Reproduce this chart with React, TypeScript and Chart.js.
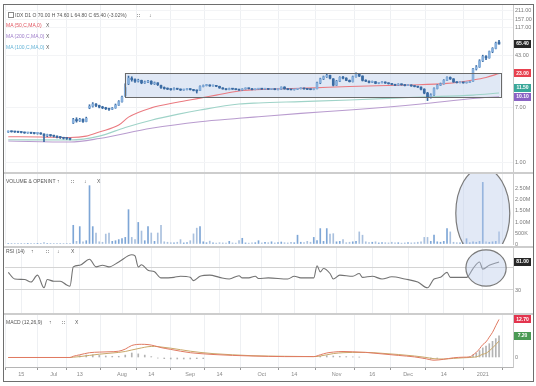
import React, { useEffect, useRef } from 'react';
import { Chart, registerables } from 'chart.js';

Chart.register(...registerables);

const FONT = "'Liberation Sans', Arial, sans-serif";

// ---------- x axis ----------
const X_MIN = -1;
const X_MAX = 155.3;
const tickIdx = [4, 14, 22, 35, 44, 56, 65, 78, 88, 101, 112, 123, 134, 146];
const tickLabels = ['15', 'Jul', '13', 'Aug', '14', 'Sep', '14', 'Oct', '14', 'Nov', '16', 'Dec', '14', '2021'];

// ---------- price (daily candles) ----------
const opens = [
  2.90, 2.95, 2.92, 2.90, 2.88, 2.85, 2.80, 2.82, 2.78, 2.75,
  2.80, 2.70, 2.55, 2.60, 2.55, 2.50, 2.40, 2.38, 2.32, 2.30,
  4.00, 4.50, 4.30, 4.55, 4.20, 6.80, 7.20, 7.80, 7.40, 7.00,
  6.80, 6.60, 6.50, 6.80, 7.50, 8.50, 10.5, 16.0, 19.5, 18.5,
  17.5, 18.0, 16.5, 17.0, 17.5, 16.0, 16.5, 15.0, 14.0, 13.5,
  13.2, 13.0, 13.5, 13.2, 12.8, 13.0, 13.3, 13.0, 12.6, 12.6,
  14.5, 15.0, 15.3, 14.8, 15.0, 14.6, 13.8, 13.3, 13.0, 13.5,
  13.2, 13.0, 12.8, 13.3, 13.6, 13.4, 13.0, 13.2, 13.5, 13.2,
  13.4, 13.1, 13.3, 13.0, 13.2, 14.2, 13.3, 13.0, 12.9, 13.1,
  13.4, 13.6, 13.3, 13.1, 13.0, 13.4, 16.5, 19.0, 20.5, 21.5,
  19.0, 15.2, 17.5, 20.0, 19.5, 18.0, 17.2, 20.5, 22.5, 21.0,
  18.0, 17.5, 16.8, 17.2, 16.2, 16.5, 17.0, 16.4, 16.0, 15.6,
  15.2, 15.8, 15.4, 15.0, 15.3, 14.8, 14.5, 14.2, 13.2, 11.5,
  10.0, 10.8, 13.5, 15.2, 16.0, 18.0, 20.0, 19.0, 17.0, 16.6,
  16.8, 16.5, 16.7, 17.5, 27.0, 29.0, 36.0, 42.0, 40.0, 50.0,
  56.0, 70.0,
];
const highs = [
  3.00, 3.00, 2.96, 2.95, 2.92, 2.88, 2.86, 2.85, 2.80, 2.84,
  2.82, 2.72, 2.68, 2.64, 2.58, 2.52, 2.46, 2.40, 2.36, 2.32,
  4.70, 4.80, 4.70, 4.60, 4.90, 7.60, 8.20, 7.90, 7.50, 7.20,
  6.95, 6.70, 6.90, 7.80, 8.80, 10.3, 16.0, 21.0, 20.5, 19.0,
  18.8, 18.2, 17.6, 18.0, 17.8, 17.0, 16.6, 15.2, 14.3, 13.8,
  13.4, 13.8, 13.6, 13.3, 13.2, 13.5, 13.4, 13.1, 12.8, 14.8,
  15.3, 15.6, 15.4, 15.2, 15.1, 14.7, 13.9, 13.4, 13.7, 13.6,
  13.3, 13.1, 13.4, 13.8, 13.7, 13.5, 13.3, 13.6, 13.6, 13.5,
  13.5, 13.4, 13.4, 13.3, 14.3, 14.4, 13.4, 13.1, 13.2, 13.5,
  13.8, 13.7, 13.4, 13.2, 13.3, 17.0, 19.5, 21.0, 22.8, 21.8,
  19.2, 18.0, 20.5, 20.8, 19.8, 18.3, 21.0, 23.5, 23.0, 21.2,
  18.4, 17.7, 17.6, 17.3, 16.8, 17.3, 17.1, 16.5, 16.1, 15.7,
  16.0, 15.9, 15.5, 15.5, 15.4, 14.9, 14.6, 14.3, 13.4, 11.8,
  11.2, 13.8, 15.5, 16.4, 18.5, 20.5, 20.4, 19.2, 17.2, 17.1,
  16.9, 16.9, 17.5, 27.5, 30.5, 37.5, 44.0, 43.5, 51.0, 57.5,
  70.0, 74.6,
];
const lows = [
  2.85, 2.88, 2.85, 2.82, 2.80, 2.76, 2.76, 2.72, 2.70, 2.68,
  2.66, 2.05, 2.45, 2.48, 2.42, 2.34, 2.30, 2.25, 2.22, 2.18,
  3.90, 4.10, 4.20, 4.05, 4.15, 6.60, 7.00, 7.10, 6.80, 6.60,
  6.40, 6.20, 6.40, 6.70, 7.40, 8.30, 10.2, 15.5, 17.5, 16.8,
  17.0, 16.0, 16.2, 16.6, 15.6, 15.6, 15.0, 13.6, 13.2, 13.0,
  12.7, 12.9, 13.0, 12.6, 12.7, 12.9, 12.8, 12.4, 11.5, 12.5,
  14.3, 14.8, 14.6, 14.7, 14.4, 13.6, 13.2, 12.9, 12.9, 13.1,
  12.9, 12.6, 12.7, 13.2, 13.3, 12.9, 12.9, 13.1, 13.1, 13.1,
  13.0, 13.0, 12.9, 12.9, 13.1, 13.2, 12.9, 12.8, 12.8, 13.0,
  13.3, 13.2, 13.0, 12.9, 12.9, 13.3, 16.0, 18.5, 20.0, 19.0,
  14.8, 15.0, 17.2, 19.0, 17.8, 17.0, 17.0, 20.2, 20.6, 17.6,
  17.2, 16.5, 16.6, 16.0, 16.0, 16.4, 16.2, 15.8, 15.4, 15.0,
  15.1, 15.2, 14.8, 14.9, 14.6, 14.3, 14.0, 12.8, 11.2, 8.8,
  9.6, 10.6, 13.3, 15.0, 15.8, 17.8, 18.6, 16.8, 16.4, 16.5,
  16.3, 16.4, 16.6, 17.3, 26.0, 28.5, 35.0, 37.5, 39.5, 48.0,
  55.0, 64.8,
];
const closes = [
  2.95, 2.92, 2.90, 2.88, 2.85, 2.80, 2.82, 2.78, 2.75, 2.80,
  2.70, 2.55, 2.60, 2.55, 2.50, 2.40, 2.38, 2.32, 2.30, 2.25,
  4.50, 4.30, 4.55, 4.20, 4.70, 7.20, 7.80, 7.40, 7.00, 6.80,
  6.60, 6.50, 6.75, 7.50, 8.50, 10.0, 14.0, 19.5, 18.5, 17.5,
  18.0, 16.5, 17.0, 17.5, 16.0, 16.5, 15.5, 14.0, 13.5, 13.2,
  13.0, 13.5, 13.2, 12.8, 13.0, 13.3, 13.0, 12.6, 12.4, 14.5,
  15.0, 15.3, 14.8, 15.0, 14.6, 13.8, 13.3, 13.0, 13.5, 13.2,
  13.0, 12.8, 13.3, 13.6, 13.4, 13.0, 13.2, 13.5, 13.2, 13.4,
  13.1, 13.3, 13.0, 13.2, 14.2, 13.3, 13.0, 12.9, 13.1, 13.4,
  13.6, 13.3, 13.1, 13.0, 13.2, 16.5, 19.0, 20.5, 21.5, 19.5,
  15.2, 17.5, 20.0, 19.5, 18.0, 17.2, 20.5, 22.5, 21.0, 18.0,
  17.5, 16.8, 17.2, 16.2, 16.5, 17.0, 16.4, 16.0, 15.6, 15.2,
  15.8, 15.4, 15.0, 15.3, 14.8, 14.5, 14.2, 13.2, 11.5, 10.0,
  10.8, 13.5, 15.2, 16.0, 18.0, 20.0, 19.0, 17.0, 16.6, 16.8,
  16.5, 16.7, 17.2, 27.0, 29.0, 36.0, 42.0, 40.0, 50.0, 56.0,
  67.4, 65.4,
];
const priceTicks = [1, 7, 43, 117, 157, 211];

// ---------- moving averages (read at key bars) ----------
const ma50Idx = [0, 10, 19, 24, 28, 34, 37, 44, 52, 59, 64, 71, 80, 92, 105, 123, 135, 143, 147, 151];
const ma50Val = [2.45, 2.42, 2.38, 2.5, 2.9, 3.7, 4.9, 6.8, 8.3, 9.6, 10.7, 12.4, 13.2, 13.7, 14.5, 15.3, 16.2, 18.3, 20.0, 23.0];
const ma100Idx = [0, 19, 28, 36, 44, 52, 59, 71, 77, 90, 105, 127, 143, 151];
const ma100Val = [2.2, 2.18, 2.5, 3.4, 4.4, 5.4, 6.3, 7.8, 8.1, 8.5, 9.0, 10.0, 10.7, 11.5];
const ma200Idx = [0, 19, 28, 44, 59, 71, 77, 90, 105, 127, 143, 151];
const ma200Val = [2.1, 2.03, 2.3, 3.3, 4.17, 4.7, 4.97, 5.6, 6.3, 7.8, 9.5, 10.1];

// ---------- volume (millions) ----------
const volumes = [
  0.02, 0.01, 0.02, 0.01, 0.03, 0.02, 0.01, 0.02, 0.02, 0.01,
  0.03, 0.06, 0.02, 0.01, 0.02, 0.02, 0.01, 0.02, 0.01, 0.02,
  0.85, 0.12, 0.79, 0.10, 0.15, 2.65, 0.79, 0.50, 0.10, 0.08,
  0.45, 0.50, 0.12, 0.15, 0.20, 0.25, 0.30, 1.56, 0.30, 0.20,
  0.98, 0.59, 0.15, 0.79, 0.50, 0.12, 0.50, 0.85, 0.10, 0.08,
  0.06, 0.05, 0.08, 0.20, 0.05, 0.06, 0.15, 0.46, 0.72, 0.79,
  0.10, 0.06, 0.13, 0.05, 0.04, 0.06, 0.05, 0.04, 0.12, 0.05,
  0.04, 0.15, 0.26, 0.05, 0.04, 0.05, 0.06, 0.15, 0.05, 0.08,
  0.06, 0.10, 0.05, 0.07, 0.09, 0.06, 0.05, 0.08, 0.06, 0.40,
  0.08, 0.06, 0.12, 0.08, 0.30, 0.15, 0.70, 0.12, 0.70, 0.45,
  0.47, 0.10, 0.12, 0.20, 0.06, 0.08, 0.10, 0.12, 0.55, 0.40,
  0.10, 0.06, 0.08, 0.10, 0.05, 0.07, 0.06, 0.05, 0.08, 0.05,
  0.06, 0.04, 0.05, 0.07, 0.05, 0.06, 0.08, 0.10, 0.30, 0.30,
  0.12, 0.40, 0.10, 0.08, 0.12, 0.70, 0.55, 0.08, 0.06, 0.05,
  0.07, 0.24, 0.06, 0.10, 0.08, 0.12, 2.80, 0.10, 0.08, 0.10,
  0.12, 0.55,
];
const volTicks = [0, 0.5, 1, 1.5, 2, 2.5];

// ---------- RSI(14) ----------
const rsiIdx = [0, 2, 5, 7, 9, 11, 12, 14, 16, 18, 19, 20, 22, 25, 27, 29, 31, 34, 38, 39, 40, 41, 43, 45, 47, 51, 53, 56, 57, 59, 62, 65, 68, 71, 72, 74, 76, 77, 80, 86, 88, 90, 94, 95, 96, 97, 99, 100, 102, 106, 108, 109, 112, 115, 118, 122, 126, 129, 131, 133, 135, 136, 138, 141, 143, 145, 146, 148, 151];
const rsiVal = [62, 50, 49, 44.5, 57, 34, 49, 46, 46, 39, 37, 72, 75, 86, 72, 75, 72, 81, 94, 92, 72, 76, 66, 63, 52, 53, 55, 53, 47, 55, 57, 53, 50, 56, 52, 52, 55, 51, 52, 50, 55, 52, 52, 74, 63, 69, 60, 50, 57, 55, 60, 53, 55, 50, 54, 50, 44.5, 34, 50, 53, 62, 53, 53, 53, 69, 81, 68, 75, 81];
const rsiTicks = [30, 70];
const rsiTickText = ['30', ''];

// ---------- MACD(12,26,9) ----------
const macdIdx = [0, 19, 20, 22, 25, 28, 31, 34, 36, 38, 41, 43, 45, 47, 50, 53, 56, 59, 63, 69, 75, 85, 94, 96, 98, 100, 103, 106, 110, 115, 120, 125, 128, 131, 134, 137, 140, 142, 143, 144, 145, 146, 147, 148, 149, 150, 151];
const macdVal = [0, 0, 0.4, 0.9, 1.6, 1.8, 1.9, 2.1, 2.8, 4.0, 4.4, 4.3, 3.9, 3.3, 2.7, 2.1, 1.6, 1.3, 1.0, 0.7, 0.5, 0.3, 0.3, 0.9, 1.5, 1.8, 2.0, 1.9, 1.7, 1.2, 0.7, 0.2, -0.3, -0.9, -0.6, -0.1, 0.1, 0.2, 0.9, 1.7, 2.9, 4.3, 5.2, 6.8, 8.4, 10.6, 12.7];
const signalVal = [0, 0, 0.1, 0.3, 0.7, 1.1, 1.4, 1.7, 2.0, 2.5, 3.2, 3.6, 3.7, 3.5, 3.1, 2.6, 2.1, 1.7, 1.3, 0.9, 0.6, 0.4, 0.3, 0.5, 0.9, 1.3, 1.6, 1.7, 1.7, 1.4, 1.0, 0.5, 0.1, -0.4, -0.5, -0.3, -0.1, 0.0, 0.1, 0.2, 0.6, 1.1, 1.4, 2.2, 3.2, 4.3, 5.5];
const histIdx = [22, 24, 26, 28, 30, 32, 34, 36, 38, 40, 42, 44, 46, 48, 50, 52, 54, 56, 58, 60, 96, 98, 100, 102, 104, 106, 108, 128, 130, 132, 142, 143, 144, 145, 146, 147, 148, 149, 150, 151];
const histVal = [0.6, 0.8, 0.9, 0.7, 0.5, 0.4, 0.4, 0.8, 1.5, 1.2, 0.8, 0.3, -0.2, -0.4, -0.5, -0.5, -0.5, -0.5, -0.4, -0.4, 0.4, 0.6, 0.5, 0.4, 0.3, 0.2, 0.1, -0.4, -0.5, -0.3, 0.3, 0.8, 1.5, 2.3, 3.2, 3.8, 4.6, 5.4, 6.3, 7.2];

// ---------- annotations (data coordinates) ----------
const BOX = { x0: 35.8, x1: 151.5, lo: 10.0, hi: 23.4 };
const VOL_ELLIPSE = { cx: 146, cy: 1.4, rx: 8.3, ry: 2.05 };
const RSI_CIRCLE = { cx: 147, cy: 70, rx: 6.2, ry: 33 };

const pts = (xs: number[], ys: number[]) => xs.map((x, k) => ({ x, y: ys[k] }));
const idx = closes.map((_, i) => i);

function xAxis(showLabels: boolean): any {
  return {
    type: 'linear',
    min: X_MIN,
    max: X_MAX,
    bounds: 'data',
    offset: false,
    afterBuildTicks: (s: any) => { s.ticks = tickIdx.map((v) => ({ value: v })); },
    afterFit: (s: any) => { s.height = showLabels ? 14 : 0; s.paddingLeft = 0; s.paddingRight = 0; },
    ticks: {
      display: showLabels,
      autoSkip: false,
      maxRotation: 0,
      padding: 1,
      color: '#8a8a8a',
      font: { size: 5.5, family: FONT },
      callback: (_v: any, i: number) => tickLabels[i],
    },
    grid: { color: '#eef0f3', drawTicks: showLabels, tickLength: 3, tickColor: '#9a9a9a' },
    border: { display: showLabels, color: '#b5b5b5' },
  };
}

function yAxis(extra: any, ticksVals: number[], fmt: (v: number, i: number) => string, gridColor: string): any {
  return {
    position: 'right',
    bounds: 'data',
    ...extra,
    afterBuildTicks: (s: any) => { s.ticks = ticksVals.map((v) => ({ value: v })); },
    afterFit: (s: any) => { s.width = 20; s.paddingTop = 0; s.paddingBottom = 0; },
    ticks: {
      padding: 2,
      color: '#7a7a7a',
      font: { size: 5.5, family: FONT },
      callback: (v: any, i: number) => fmt(Number(v), i),
    },
    grid: { color: gridColor, drawTicks: false },
    border: { display: true, color: '#c9c9c9' },
  };
}

function drawTag(chart: any, y: number, bg: string, text: string) {
  const ctx = chart.ctx;
  const x0 = chart.chartArea.right + 1;
  ctx.save();
  ctx.fillStyle = bg;
  ctx.fillRect(x0, Math.round(y - 4), 17, 8);
  ctx.fillStyle = '#ffffff';
  ctx.font = `bold 5px ${FONT}`;
  ctx.textAlign = 'center';
  ctx.textBaseline = 'middle';
  ctx.fillText(text, x0 + 8.5, y);
  ctx.restore();
}

function tagsPlugin(id: string, items: { v: number; bg: string; text: string }[]) {
  return {
    id,
    afterDraw(chart: any) {
      const ys = chart.scales.y;
      const list = items.map((it) => ({ ...it, py: ys.getPixelForValue(it.v) }));
      list.sort((a, b) => a.py - b.py);
      for (let k = list.length - 2; k >= 0; k--) {
        if (list[k + 1].py - list[k].py < 9) list[k].py = list[k + 1].py - 9;
      }
      list.forEach((it) => drawTag(chart, it.py, it.bg, it.text));
    },
  };
}

function ellipsePlugin(id: string, e: { cx: number; cy: number; rx: number; ry: number }) {
  return {
    id,
    afterDatasetsDraw(chart: any) {
      const { x, y } = chart.scales;
      const a = chart.chartArea;
      const ctx = chart.ctx;
      const px = x.getPixelForValue(e.cx);
      const py = y.getPixelForValue(e.cy);
      const rx = Math.abs(x.getPixelForValue(e.cx + e.rx) - px);
      const ry = Math.abs(y.getPixelForValue(e.cy + e.ry) - py);
      ctx.save();
      ctx.beginPath();
      ctx.rect(a.left, a.top, a.right - a.left, a.bottom - a.top);
      ctx.clip();
      ctx.beginPath();
      ctx.ellipse(px, py, rx, ry, 0, 0, Math.PI * 2);
      ctx.fillStyle = 'rgba(186,202,234,0.42)';
      ctx.fill();
      ctx.strokeStyle = '#7b7b7b';
      ctx.lineWidth = 1.2;
      ctx.stroke();
      ctx.restore();
    },
  };
}

const boxPlugin = {
  id: 'rangeBox',
  beforeDatasetsDraw(chart: any) {
    const { x, y } = chart.scales;
    const l = x.getPixelForValue(BOX.x0), r = x.getPixelForValue(BOX.x1);
    const t = y.getPixelForValue(BOX.hi), b = y.getPixelForValue(BOX.lo);
    const ctx = chart.ctx;
    ctx.save();
    ctx.fillStyle = 'rgba(204,216,238,0.6)';
    ctx.fillRect(l, t, r - l, b - t);
    ctx.restore();
  },
  afterDatasetsDraw(chart: any) {
    const { x, y } = chart.scales;
    const l = Math.round(x.getPixelForValue(BOX.x0)) + 0.5, r = Math.round(x.getPixelForValue(BOX.x1)) + 0.5;
    const t = Math.round(y.getPixelForValue(BOX.hi)) + 0.5, b = Math.round(y.getPixelForValue(BOX.lo)) + 0.5;
    const ctx = chart.ctx;
    ctx.save();
    ctx.strokeStyle = '#6a6a6a';
    ctx.lineWidth = 1;
    ctx.strokeRect(l, t, r - l, b - t);
    ctx.restore();
  },
};

const baseOptions = (x: any, y: any): any => ({
  animation: false,
  responsive: false,
  maintainAspectRatio: false,
  events: [],
  layout: { padding: { left: 1, right: 0, top: 0, bottom: 0 } },
  plugins: { legend: { display: false }, tooltip: { enabled: false } },
  scales: { x, y },
});

const lineDs = (data: any[], color: string, width = 1, order = 5): any => ({
  type: 'line',
  data,
  borderColor: color,
  borderWidth: width,
  pointRadius: 0,
  cubicInterpolationMode: 'monotone',
  order,
});

const UP = '#86afdc';
const DOWN = '#3a6ba3';

export default function App() {
  const mainRef = useRef<HTMLCanvasElement>(null);
  const volRef = useRef<HTMLCanvasElement>(null);
  const rsiRef = useRef<HTMLCanvasElement>(null);
  const macdRef = useRef<HTMLCanvasElement>(null);

  useEffect(() => {
    const charts: Chart[] = [];
    const last = closes.length - 1;

    charts.push(new Chart(mainRef.current as HTMLCanvasElement, {
      type: 'line',
      data: {
        datasets: [
          lineDs(pts(ma50Idx, ma50Val), '#ea7a80', 1.1, 5),
          lineDs(pts(ma100Idx, ma100Val), '#9fd3c8', 1.1, 6),
          lineDs(pts(ma200Idx, ma200Val), '#b99ccf', 1.1, 7),
          {
            type: 'bar',
            data: idx.map((i) => ({ x: i, y: [lows[i], highs[i]] })),
            backgroundColor: DOWN,
            barThickness: 1,
            grouped: false,
            order: 2,
          },
          {
            type: 'bar',
            data: idx.map((i) => ({ x: i, y: [opens[i], closes[i]] })),
            backgroundColor: idx.map((i) => (closes[i] >= opens[i] ? UP : DOWN)),
            borderColor: DOWN,
            borderWidth: 0,
            barThickness: 2,
            minBarLength: 1,
            grouped: false,
            order: 1,
          },
        ] as any,
      },
      options: baseOptions(
        xAxis(false),
        yAxis({ type: 'logarithmic', min: 0.7017, max: 260.3 }, priceTicks, (v) => v.toFixed(2), '#f3f4f6'),
      ),
      plugins: [
        boxPlugin,
        tagsPlugin('priceTags', [
          { v: closes[last], bg: '#262626', text: closes[last].toFixed(2) },
          { v: ma50Val[ma50Val.length - 1], bg: '#e8414f', text: ma50Val[ma50Val.length - 1].toFixed(2) },
          { v: ma100Val[ma100Val.length - 1], bg: '#3aa89a', text: ma100Val[ma100Val.length - 1].toFixed(2) },
          { v: ma200Val[ma200Val.length - 1], bg: '#8a63c4', text: ma200Val[ma200Val.length - 1].toFixed(2) },
        ]),
      ],
    }));

    charts.push(new Chart(volRef.current as HTMLCanvasElement, {
      type: 'line',
      data: {
        datasets: [
          {
            type: 'bar',
            data: idx.map((i) => ({ x: i, y: volumes[i] })),
            backgroundColor: idx.map((i) => (closes[i] >= opens[i] ? '#7ea6d6' : '#a9c0de')),
            barThickness: 1,
            grouped: false,
          },
        ] as any,
      },
      options: (() => {
        const o = baseOptions(
          xAxis(false),
          yAxis({ type: 'linear', min: 0, max: 3.18 }, volTicks,
            (v) => (v === 0 ? '0' : v < 1 ? `${Math.round(v * 1000)}K` : `${v.toFixed(2)}M`), 'rgba(0,0,0,0)'),
        );
        o.layout.padding.bottom = 2;
        return o;
      })(),
      plugins: [ellipsePlugin('volEllipse', VOL_ELLIPSE)],
    }));

    charts.push(new Chart(rsiRef.current as HTMLCanvasElement, {
      type: 'line',
      data: { datasets: [lineDs(pts(rsiIdx, rsiVal), '#737373', 1.1, 1)] as any },
      options: baseOptions(
        xAxis(false),
        yAxis({ type: 'linear', min: -11.82, max: 106.36 }, rsiTicks, (_v, i) => rsiTickText[i], '#d4d4d4'),
      ),
      plugins: [
        ellipsePlugin('rsiCircle', RSI_CIRCLE),
        tagsPlugin('rsiTag', [{ v: rsiVal[rsiVal.length - 1], bg: '#262626', text: rsiVal[rsiVal.length - 1].toFixed(2) }]),
      ],
    }));

    charts.push(new Chart(macdRef.current as HTMLCanvasElement, {
      type: 'line',
      data: {
        datasets: [
          {
            type: 'bar',
            data: pts(histIdx, histVal),
            backgroundColor: '#b3b3b3',
            barThickness: 1,
            grouped: false,
            order: 3,
          },
          lineDs(pts(macdIdx, signalVal), '#c9a86a', 1, 2),
          lineDs(pts(macdIdx, macdVal), '#e07a62', 1, 1),
        ] as any,
      },
      options: baseOptions(
        xAxis(true),
        yAxis({ type: 'linear', min: -3.17, max: 14.17 }, [0], (v) => v.toFixed(0), 'rgba(0,0,0,0)'),
      ),
      plugins: [
        tagsPlugin('macdTags', [
          { v: macdVal[macdVal.length - 1], bg: '#e3344e', text: macdVal[macdVal.length - 1].toFixed(2) },
          { v: histVal[histVal.length - 1], bg: '#4b9a55', text: histVal[histVal.length - 1].toFixed(2) },
        ]),
      ],
    }));

    return () => charts.forEach((c) => c.destroy());
  }, []);

  const abs = (left: number, top: number, extra: React.CSSProperties = {}): React.CSSProperties => ({
    position: 'absolute', left, top, ...extra,
  });
  const txt: React.CSSProperties = { fontSize: 5, lineHeight: '6px', color: '#555', whiteSpace: 'nowrap', fontFamily: FONT };
  const sep = (top: number) => (
    <div style={abs(4, top, { width: 529, height: 2, background: '#cdcdcd' })} />
  );

  return (
    <div style={{ position: 'relative', width: 536, height: 386, background: '#fff', overflow: 'hidden', fontFamily: FONT }}>
      <style>{'body{margin:0}'}</style>
      <canvas ref={mainRef} width={529} height={167} style={abs(4, 5)} />
      {sep(172)}
      <canvas ref={volRef} width={529} height={72} style={abs(4, 174)} />
      {sep(246)}
      <canvas ref={rsiRef} width={529} height={65} style={abs(4, 248)} />
      {sep(313)}
      <canvas ref={macdRef} width={529} height={66} style={abs(4, 315)} />
      <div style={abs(3, 4, { width: 531, height: 378, border: '1px solid #6e6e6e', boxSizing: 'border-box' })} />

      {/* main panel legend */}
      <div style={abs(8, 12, { width: 4, height: 4, border: '1px solid #888' })} />
      <div style={abs(15, 12, txt)}>IDX D1 O 70.00 H 74.60 L 64.80 C 65.40 (-3.02%)</div>
      <div style={abs(137, 12, txt)}>∷</div>
      <div style={abs(149, 12, txt)}>↓</div>
      <div style={abs(6, 22, { ...txt, color: '#e0525d' })}>MA (50,C,MA,0)</div>
      <div style={abs(46, 22, txt)}>X</div>
      <div style={abs(6, 33, { ...txt, color: '#9c7ac8' })}>MA (200,C,MA,0)</div>
      <div style={abs(46, 33, txt)}>X</div>
      <div style={abs(6, 44, { ...txt, color: '#62b2d6' })}>MA (100,C,MA,0)</div>
      <div style={abs(46, 44, txt)}>X</div>

      {/* volume legend */}
      <div style={abs(6, 178, txt)}>VOLUME &amp; OPENINT</div>
      <div style={abs(57, 178, txt)}>↑</div>
      <div style={abs(71, 178, txt)}>∷</div>
      <div style={abs(84, 178, txt)}>↓</div>
      <div style={abs(97, 178, txt)}>X</div>

      {/* RSI legend */}
      <div style={abs(6, 248, txt)}>RSI (14)</div>
      <div style={abs(31, 248, txt)}>↑</div>
      <div style={abs(46, 248, txt)}>∷</div>
      <div style={abs(57, 248, txt)}>↓</div>
      <div style={abs(71, 248, txt)}>X</div>

      {/* MACD legend */}
      <div style={abs(6, 319, txt)}>MACD (12,26,9)</div>
      <div style={abs(49, 319, txt)}>↑</div>
      <div style={abs(62, 319, txt)}>∷</div>
      <div style={abs(75, 319, txt)}>X</div>
    </div>
  );
}
